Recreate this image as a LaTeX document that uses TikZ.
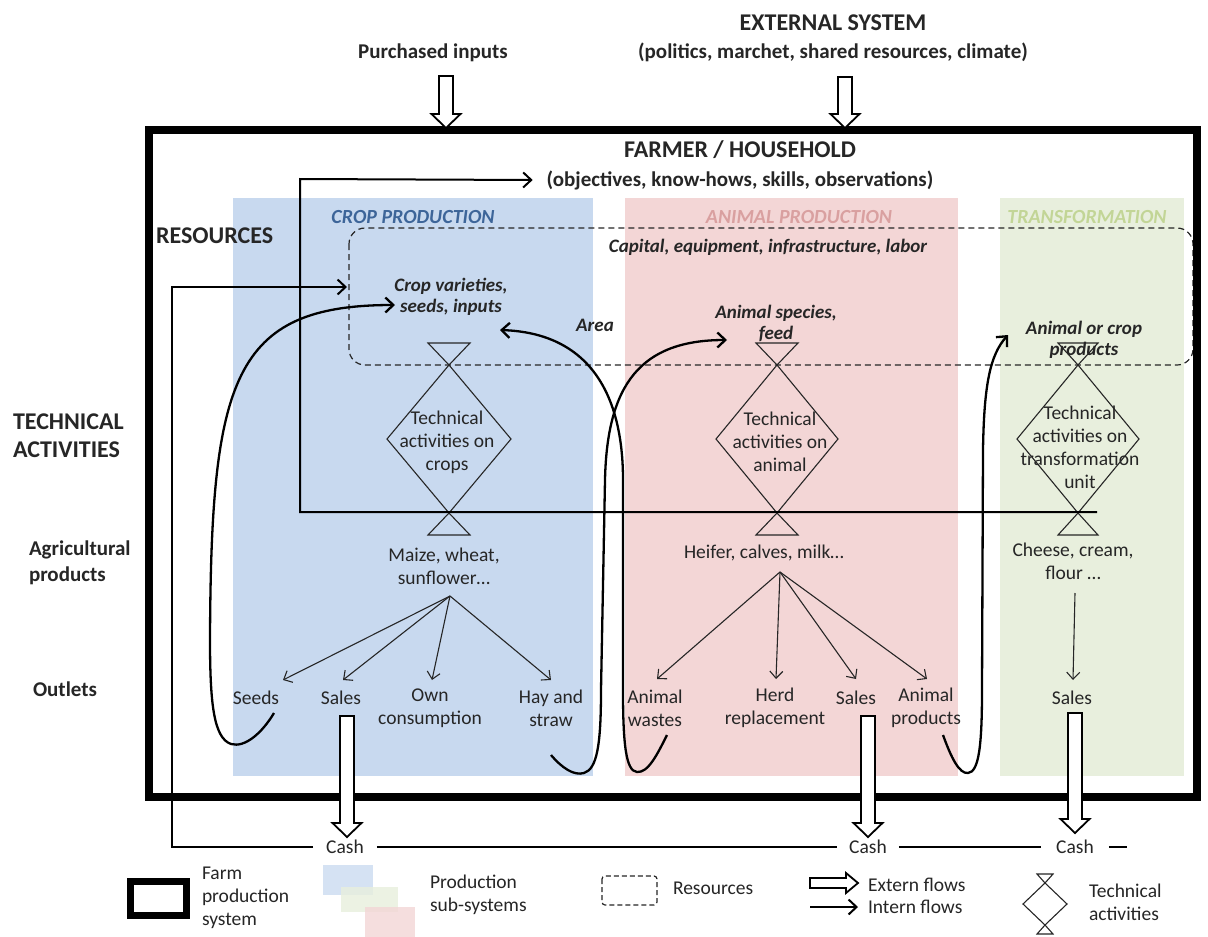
\documentclass[tikz,border=0pt]{standalone}
\usepackage{fontspec}
\setmainfont{Carlito}
\usetikzlibrary{arrows.meta,calc}
\definecolor{cropbg}{HTML}{C8D9EF}
\definecolor{animbg}{HTML}{F3D6D6}
\definecolor{transbg}{HTML}{E8EFDD}
\definecolor{croptitle}{HTML}{3D6599}
\definecolor{animtitle}{HTML}{D9A0A0}
\definecolor{transtitle}{HTML}{C2D596}
\definecolor{ink}{HTML}{262626}
\newcommand\FBig{\fontsize{24}{28}\selectfont\bfseries}
\newcommand\FMid{\fontsize{21}{26}\selectfont\bfseries}
\newcommand\FNorm{\fontsize{19.5}{23}\selectfont}
\newcommand\FBI{\fontsize{19}{21}\selectfont\bfseries\itshape}
\newcommand\FTitle{\fontsize{20}{24}\selectfont\bfseries\itshape}
\tikzset{
 every node/.style={inner sep=0pt, outer sep=0pt, align=center, text=ink},
 tbig/.style={font=\FBig}, tmid/.style={font=\FMid}, tnorm/.style={font=\FNorm},
 tbi/.style={font=\FBI}, tttl/.style={font=\FTitle},
 resbox/.style={draw=ink, line width=1.2pt, dash pattern=on 6pt off 4pt, rounded corners=16pt},
 flow/.style={draw=ink, line width=1.1pt, -{Straight Barb[length=7pt,width=13pt]}},
 bigcurve/.style={draw=black, line width=2.3pt, -{Straight Barb[length=8pt,width=15pt]}},
 wire/.style={draw=black, line width=2pt},
 diam/.style={draw=ink, line width=1.1pt},
 pics/hdown/.style={code={\draw[line width=1.8pt, fill=white, line join=miter] (-7,0) -- (-7,#1-14) -- (-14.5,#1-14) -- (0,#1) -- (14.5,#1-14) -- (7,#1-14) -- (7,0) -- cycle;}},
 pics/hright/.style={code={\draw[line width=1.8pt, fill=white, line join=miter] (0,-5) -- (#1-12,-5) -- (#1-12,-10) -- (#1,0) -- (#1-12,10) -- (#1-12,5) -- (0,5) -- cycle;}},
 pics/techact/.style args={#1/#2/#3/#4}{code={
   \draw[diam] (0,-#2) -- (#1,0) -- (0,#2) -- (-#1,0) -- cycle;
   \draw[diam] (0,-#2) -- (-#3,-#2-#4) -- (#3,-#2-#4) -- cycle;
   \draw[diam] (0,#2) -- (-#3,#2+#4) -- (#3,#2+#4) -- cycle;}},
}
\begin{document}
\begin{tikzpicture}[x=1pt,y=-1pt]
\path[use as bounding box, fill=white] (0,0) rectangle (1208,937);
% production sub-system panels
\fill[cropbg] (233,198) rectangle (593,776);
\fill[animbg] (625,198) rectangle (958,776);
\fill[transbg] (1000,198) rectangle (1184,776);
% resources box
\draw[resbox] (349,228) rectangle (1193,365);
% farm production system
\draw[line width=8pt] (149,130) rectangle (1197,797);

% top texts
\node[tbig] (ext) at (833,23) {EXTERNAL SYSTEM};
\node[tmid] (extd) at (833,52) {(politics, marchet, shared resources, climate)};
\node[tmid] (pin) at (433,53) {Purchased inputs};
\pic at (446,76) {hdown=52};
\pic at (845,77) {hdown=51};
\node[tbig] (farmer) at (740,150) {FARMER / HOUSEHOLD};
\node[tmid] (obj) at (740,180) {(objectives, know-hows, skills, observations)};

% panel titles
\node[tttl, text=croptitle] (ct) at (413,217) {CROP PRODUCTION};
\node[tttl, text=animtitle] (at) at (799,217) {ANIMAL PRODUCTION};
\node[tttl, text=transtitle] (tt) at (1087,217) {TRANSFORMATION};

% row labels
\node[tbig, anchor=west] (res) at (156,236) {RESOURCES};
\node[tbig, anchor=west, align=left] (tech) at (13,436) {TECHNICAL\\ACTIVITIES};
\node[tmid, anchor=west, align=left] (agri) at (29,563) {Agricultural\\products};
\node[tmid] (outl) at (65,689) {Outlets};

% resources
\node[tbi] (cap) at (768,247) {Capital, equipment, infrastructure, labor};
\node[tbi] (cropres) at (451,297) {Crop varieties,\\seeds, inputs};
\node[tbi] (area) at (595,325) {Area};
\node[tbi] (animres) at (776,323) {Animal species,\\feed};
\node[tbi] (transres) at (1084,340) {Animal or crop\\products};

% technical activities
\pic at (449,439) {techact=62/74/21/22};
\node[tnorm] (tcrop) at (447,442) {Technical\\activities on\\crops};
\pic at (777,439) {techact=61/74/21/22};
\node[tnorm] (tanim) at (780,442) {Technical\\activities on\\animal};
\pic at (1078,439) {techact=61/74/20/22};
\node[tnorm] (ttrans) at (1080,447) {Technical\\activities on\\transformation\\unit};

% agricultural products
\node[tnorm] (maize) at (444,566) {Maize, wheat,\\sunflower…};
\node[tnorm] (heifer) at (764,553) {Heifer, calves, milk…};
\node[tnorm] (cheese) at (1073,561) {Cheese, cream,\\flour …};

% outlets
\node[tnorm] (seeds) at (256,698) {Seeds};
\node[tnorm] (salesC) at (341,698) {Sales};
\node[tnorm] (own) at (430,708) {Own\\consumption};
\node[tnorm] (hay) at (551,708) {Hay and\\straw};
\node[tnorm] (wastes) at (655,708) {Animal\\wastes};
\node[tnorm] (herd) at (775,708) {Herd\\replacement};
\node[tnorm] (salesA) at (856,698) {Sales};
\node[tnorm] (aprod) at (926,708) {Animal\\products};
\node[tnorm] (salesT) at (1072,698) {Sales};

% product -> outlet arrows
\coordinate (cropsrc) at (450,596);
\coordinate (animsrc) at (780,572);
\coordinate (transsrc) at (1075,593);
\coordinate (inSeeds) at (283,680);
\coordinate (inSalesC) at (343,680);
\coordinate (inOwn) at (432,680);
\coordinate (inHay) at (551,680);
\coordinate (inWastes) at (657,679);
\coordinate (inHerd) at (776,679);
\coordinate (inSalesA) at (856,679);
\coordinate (inAprod) at (927,679);
\coordinate (inSalesT) at (1073,680);
\draw[flow] (cropsrc) -- (inSeeds);
\draw[flow] (cropsrc) -- (inSalesC);
\draw[flow] (cropsrc) -- (inOwn);
\draw[flow] (cropsrc) -- (inHay);
\draw[flow] (animsrc) -- (inWastes);
\draw[flow] (animsrc) -- (inHerd);
\draw[flow] (animsrc) -- (inSalesA);
\draw[flow] (animsrc) -- (inAprod);
\draw[flow] (transsrc) -- (inSalesT);

% recycling curves
\coordinate (sSeeds) at (274,713);
\coordinate (eCrop) at (395,305);
\draw[bigcurve] (sSeeds) .. controls (262,733) and (245,748) .. (231,744)
   .. controls (214,738) and (210,705) .. (210,640)
   .. controls (211,380) and (232,305) .. (eCrop);
\coordinate (sHay) at (551,755);
\coordinate (eAnim) at (727,340);
\draw[bigcurve] (sHay) .. controls (562,768) and (574,776) .. (584,773)
   .. controls (597,769) and (601,745) .. (601,690) -- (605,480)
   .. controls (607,385) and (640,340) .. (eAnim);
\coordinate (sWastes) at (667,735);
\coordinate (eArea) at (500,330);
\draw[bigcurve] (sWastes) .. controls (657,755) and (648,773) .. (637,772)
   .. controls (626,771) and (623,745) .. (623,690) -- (623,480)
   .. controls (623,395) and (590,333) .. (eArea);
\coordinate (sAprod) at (943,735);
\coordinate (eTrans) at (1008,335);
\draw[bigcurve] (sAprod) .. controls (951,757) and (959,774) .. (968,773)
   .. controls (979,772) and (982,745) .. (982,690) -- (983,450)
   .. controls (984,385) and (990,355) .. (eTrans);

% feedback to farmer
\coordinate (fbstart) at (1097,512);
\coordinate (objin) at ($(obj.west)+(-14,0)$);
\draw[wire, -{Straight Barb[length=8pt,width=15pt]}] (fbstart) -- (300,512) -- (300,179) -- (objin);

% cash
\node[tnorm, inner xsep=13pt] (cash1) at (345,847) {Cash};
\node[tnorm, inner xsep=12pt] (cash2) at (868,847) {Cash};
\node[tnorm, inner xsep=15pt] (cash3) at (1075,847) {Cash};
\coordinate (cashend) at (1127,847);
\coordinate (cropresin) at (347,287);
\draw[wire] (cash1.east) -- (cash2.west);
\draw[wire] (cash2.east) -- (cash3.west);
\draw[wire] (cash3.east) -- (cashend);
\draw[wire, -{Straight Barb[length=8pt,width=15pt]}] (cash1.west) -- (172,847) -- (172,287) -- (cropresin);
\pic at (347,716) {hdown=121};
\pic at (868,716) {hdown=121};
\pic at (1075,713) {hdown=120};

% legend
\draw[line width=7pt] (130,881) rectangle (186,915);
\node[tnorm, anchor=west, align=left] (lfarm) at (202,898) {Farm\\production\\system};
\fill[cropbg, opacity=0.75] (323,865) rectangle (373,895);
\fill[transbg, opacity=0.8] (341,887) rectangle (398,912);
\fill[animbg, opacity=0.8] (365,907) rectangle (415,937);
\node[tnorm, anchor=west, align=left] (lsub) at (430,895) {Production\\sub-systems};
\draw[draw=ink, line width=1.2pt, dash pattern=on 5pt off 3pt, rounded corners=3pt] (602,876) rectangle (657,905);
\node[tnorm, anchor=west] (lres) at (673,888) {Resources};
\pic at (810,883) {hright=48};
\node[tnorm, anchor=west] (lext) at (868,885) {Extern flows};
\coordinate (lint0) at (810,907);
\coordinate (lint1) at (858,907);
\draw[wire, -{Straight Barb[length=8pt,width=15pt]}] (lint0) -- (lint1);
\node[tnorm, anchor=west] (lint) at (868,907) {Intern flows};
\pic at (1045,904) {techact=22/21/8/9};
\node[tnorm, anchor=west, align=left] (ltech) at (1089,902) {Technical\\activities};
\end{tikzpicture}
\end{document}
